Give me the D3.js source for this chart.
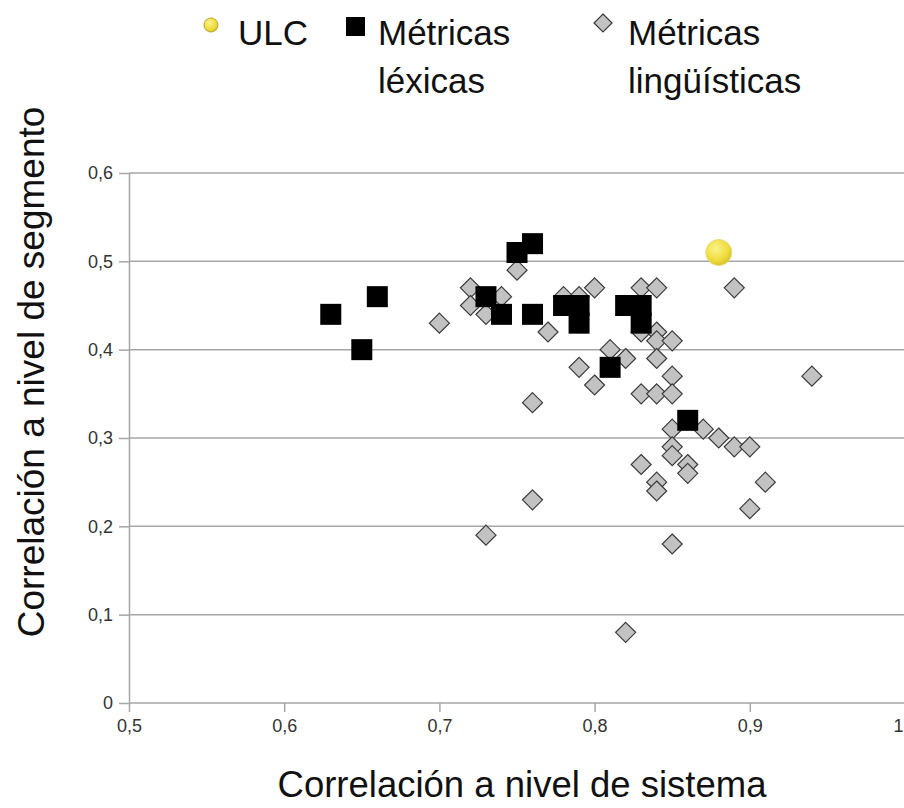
<!DOCTYPE html>
<html>
<head>
<meta charset="utf-8">
<script src="https://cdn.jsdelivr.net/npm/d3@7"></script>
<style>
  html, body { margin: 0; padding: 0; background: #fff; }
  svg { display: block; font-family: "Liberation Sans", Arial, sans-serif; }
</style>
</head>
<body>
<svg id="chart" width="904" height="808"></svg>
<script>
// ---- data ----
const ulcX = [0.88];
const ulcY = [0.51];

const lexX = [0.63, 0.65, 0.66, 0.73, 0.74, 0.75, 0.76, 0.76, 0.78, 0.79, 0.79, 0.82, 0.83, 0.83, 0.81, 0.86];
const lexY = [0.44, 0.40, 0.46, 0.46, 0.44, 0.51, 0.52, 0.44, 0.45, 0.45, 0.43, 0.45, 0.45, 0.43, 0.38, 0.32];

const lingX = [0.70, 0.72, 0.72, 0.73, 0.74, 0.75, 0.77, 0.78, 0.79, 0.80, 0.79, 0.80, 0.76, 0.83, 0.84, 0.83,
               0.84, 0.84, 0.85, 0.81, 0.82, 0.84, 0.85, 0.83, 0.84, 0.85, 0.89, 0.94, 0.85, 0.87, 0.88, 0.89,
               0.90, 0.85, 0.85, 0.86, 0.86, 0.83, 0.84, 0.84, 0.91, 0.90, 0.76, 0.73, 0.85, 0.82];
const lingY = [0.43, 0.47, 0.45, 0.44, 0.46, 0.49, 0.42, 0.46, 0.46, 0.47, 0.38, 0.36, 0.34, 0.47, 0.47, 0.42,
               0.42, 0.41, 0.41, 0.40, 0.39, 0.39, 0.37, 0.35, 0.35, 0.35, 0.47, 0.37, 0.31, 0.31, 0.30, 0.29,
               0.29, 0.29, 0.28, 0.27, 0.26, 0.27, 0.25, 0.24, 0.25, 0.22, 0.23, 0.19, 0.18, 0.08];

const xTicks = [0.5, 0.6, 0.7, 0.8, 0.9, 1];
const yTicks = [0, 0.1, 0.2, 0.3, 0.4, 0.5, 0.6];

const legendLabels = [["ULC"], ["Métricas", "léxicas"], ["Métricas", "lingüísticas"]];
const xTitle = "Correlación a nivel de sistema";
const yTitle = "Correlación a nivel de segmento";

// ---- layout ----
const svg = d3.select("#chart");
const x = d3.scaleLinear().domain([0.5, 1]).range([129, 905]);
const y = d3.scaleLinear().domain([0, 0.6]).range([703, 173]);
const fmt = d => d3.format(".1f")(d).replace(".", ",").replace(/^1,0$/, "1").replace(/^0,0$/, "0");

const defs = svg.append("defs");
const grad = defs.append("radialGradient").attr("id", "ulcGrad")
  .attr("cx", "40%").attr("cy", "35%").attr("r", "65%");
grad.append("stop").attr("offset", "0%").attr("stop-color", "#fbf38a");
grad.append("stop").attr("offset", "70%").attr("stop-color", "#efdc3c");
grad.append("stop").attr("offset", "100%").attr("stop-color", "#d9c52a");

// y axis + gridlines
const yAxis = d3.axisLeft(y).tickValues(yTicks).tickFormat(fmt).tickSize(10).tickSizeOuter(0);
const gY = svg.append("g").attr("transform", `translate(${x(0.5)},0)`).call(yAxis);
gY.select(".domain").attr("stroke", "#a6a6a6").attr("stroke-width", 1.5);
gY.selectAll(".tick line").attr("stroke", "#a6a6a6").attr("stroke-width", 1.5);
gY.selectAll(".tick text").attr("font-size", 18).attr("fill", "#333").attr("x", -16)
  .attr("font-family", "'Liberation Sans', Arial, sans-serif");

svg.append("g").selectAll("line").data(yTicks).join("line")
  .attr("x1", x(0.5)).attr("x2", 904)
  .attr("y1", d => y(d)).attr("y2", d => y(d))
  .attr("stroke", "#a6a6a6").attr("stroke-width", 1.5);

// x axis
const xAxis = d3.axisBottom(x).tickValues(xTicks).tickFormat(fmt).tickSize(9).tickSizeOuter(0);
const gX = svg.append("g").attr("transform", `translate(0,${y(0)})`).call(xAxis);
gX.select(".domain").remove();
gX.selectAll(".tick line").attr("stroke", "#a6a6a6").attr("stroke-width", 1.5);
gX.selectAll(".tick text").attr("font-size", 18).attr("fill", "#333").attr("y", 16)
  .attr("font-family", "'Liberation Sans', Arial, sans-serif")
  .attr("text-anchor", d => d === 1 ? "end" : "middle")
  .attr("dx", d => d === 1 ? -2 : 0);

// diamonds (linguistic)
const dHalf = 10;
const diamond = `M0,${-dHalf}L${dHalf},0L0,${dHalf}L${-dHalf},0Z`;
svg.append("g").selectAll("path").data(d3.range(lingX.length)).join("path")
  .attr("d", diamond)
  .attr("transform", i => `translate(${x(lingX[i])},${y(lingY[i])})`)
  .attr("fill", "#c2c2c2").attr("stroke", "#3a3a3a").attr("stroke-width", 1.2);

// squares (lexical)
const sq = 21;
svg.append("g").selectAll("rect").data(d3.range(lexX.length)).join("rect")
  .attr("x", i => x(lexX[i]) - sq / 2).attr("y", i => y(lexY[i]) - sq / 2)
  .attr("width", sq).attr("height", sq).attr("fill", "#000");

// ULC
svg.append("g").selectAll("circle").data(d3.range(ulcX.length)).join("circle")
  .attr("cx", i => x(ulcX[i])).attr("cy", i => y(ulcY[i])).attr("r", 13)
  .attr("fill", "url(#ulcGrad)").attr("stroke", "#e8d97a").attr("stroke-width", 1);

// axis titles
svg.append("text").attr("x", 522).attr("y", 797).attr("text-anchor", "middle")
  .attr("font-size", 36.5).attr("fill", "#111").text(xTitle);
svg.append("text").attr("transform", "translate(44,372) rotate(-90)").attr("text-anchor", "middle")
  .attr("font-size", 37).attr("fill", "#111").text(yTitle);

// legend
const leg = svg.append("g");
leg.append("circle").attr("cx", 211).attr("cy", 25).attr("r", 7)
  .attr("fill", "url(#ulcGrad)").attr("stroke", "#b9a830").attr("stroke-width", 1);
leg.append("rect").attr("x", 346).attr("y", 17).attr("width", 19).attr("height", 19).attr("fill", "#000");
leg.append("path").attr("d", `M0,-9L9,0L0,9L-9,0Z`).attr("transform", "translate(603,23)")
  .attr("fill", "#c2c2c2").attr("stroke", "#3a3a3a").attr("stroke-width", 1.2);
const legX = [238, 378, 628];
legendLabels.forEach((lines, k) => {
  const t = leg.append("text").attr("x", legX[k]).attr("y", 45).attr("font-size", 35).attr("fill", "#111");
  lines.forEach((ln, j) => t.append("tspan").attr("x", legX[k]).attr("dy", j === 0 ? 0 : 48).text(ln));
});
</script>
</body>
</html>
